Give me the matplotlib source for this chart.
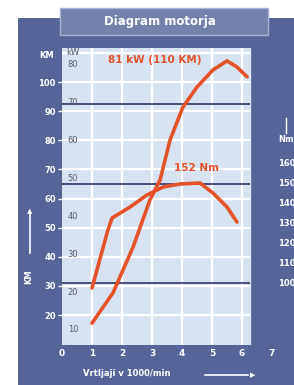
import numpy as np
import matplotlib
matplotlib.use('Agg')
import matplotlib.pyplot as plt
from matplotlib.patches import Rectangle

# podatki (odčitani z diagrama)
rpm_power = np.array([1.0, 1.7, 2.37, 2.93, 3.27, 3.6, 4.03, 4.5, 5.03, 5.5, 5.83, 6.17])
power_kw = np.array([11.8, 19.8, 31.9, 44.3, 49.6, 60.1, 68.8, 74.1, 78.6, 81.0, 79.4, 76.8])
rpm_torque = np.array([1.0, 1.53, 1.67, 2.27, 2.83, 3.37, 3.93, 4.6, 5.03, 5.5, 5.83])
torque_nm = np.array([97, 126, 132, 137.5, 143.5, 147.5, 149, 149.5, 144.5, 137.5, 130])

x_ticks = [0, 1, 2, 3, 4, 5, 6, 7]
km_ticks = [20, 30, 40, 50, 60, 70, 80, 90, 100]
kw_ticks = [10, 20, 30, 40, 50, 60, 70, 80]
nm_ticks = [100, 110, 120, 130, 140, 150, 160]

W, H = 294, 385
blue = '#56649a'
light = '#d8e3f2'
red = '#e4522b'

def px(x, y):
    return x / W, 1 - y / H

fig = plt.figure(figsize=(W / 100, H / 100), dpi=100)
fig.patch.set_facecolor('white')

# modro ozadje in okvir naslova
fig.add_artist(Rectangle(px(18, H), (W - 18) / W, (H - 18) / H, transform=fig.transFigure,
                         facecolor=blue, edgecolor='none', zorder=0))
fig.add_artist(Rectangle(px(60, 35), 208 / W, 27 / H, transform=fig.transFigure,
                         facecolor='#7581ad', edgecolor='#a9b1d2', lw=1, zorder=1))
fig.text(*px(160, 22), 'Diagram motorja', color='white', fontsize=8.5, fontweight='bold',
         ha='center', va='center')

kw_lim = (6.04, 84.4)
km_lim = (9.7, 111.7)
nm_lim = (68.5, 217)
x_right = 6.27

def km_to_kw(v):
    f = (np.asarray(v) - km_lim[0]) / (km_lim[1] - km_lim[0])
    return kw_lim[0] + f * (kw_lim[1] - kw_lim[0])

ax = fig.add_axes([62 / W, 1 - 345 / H, 210 / W, 297 / H])
ax.patch.set_alpha(0)
ax.set_xlim(0, 7)
ax.set_ylim(*kw_lim)
ax.axvspan(0, x_right, color=light, zorder=0)

# mreža
ax.vlines(range(1, 7), kw_lim[0], kw_lim[1], color='white', lw=1.6, zorder=1)
ax.hlines(km_to_kw(np.arange(20, 111, 10)), 0, x_right, color='white', lw=1.6, zorder=1)
ax.hlines([69.5, 48.5, 22.5], 0, x_right, color='#3e406f', lw=1.3, zorder=2)

ax.plot(rpm_power, power_kw, color=red, lw=2.6, solid_capstyle='round', zorder=5)

for v in kw_ticks:
    ax.text(0.37, v, str(v), color='#5a5a6a', fontsize=6, ha='center', va='center', zorder=3)
ax.text(0.37, 83.3, 'kW', color='#5a5a6a', fontsize=6, ha='center', va='center', zorder=3)

ax.set_xticks(x_ticks)
ax.set_xticklabels([str(v) for v in x_ticks], color='white', fontsize=6.5, fontweight='bold')
ax.tick_params(axis='x', length=0, pad=3)
ax.set_yticks([])
for s in ax.spines.values():
    s.set_visible(False)

ax.text(3.1, 0.96, '81 kW (110 KM)', transform=ax.get_xaxis_transform(), color=red,
        fontsize=7.5, fontweight='bold', ha='center', va='center', zorder=6)

# lestvica KM levo
ax_km = ax.twinx()
ax_km.set_ylim(*km_lim)
ax_km.yaxis.tick_left()
ax_km.set_yticks(km_ticks)
ax_km.set_yticklabels([str(v) for v in km_ticks], color='white', fontsize=6, fontweight='bold')
ax_km.tick_params(axis='y', colors='white', length=3, width=1, pad=1.5)
for s in ax_km.spines.values():
    s.set_visible(False)
fig.text(*px(47, 55), 'KM', color='white', fontsize=6, fontweight='bold', ha='center', va='center')

# lestvica Nm desno
ax_nm = ax.twinx()
ax_nm.set_ylim(*nm_lim)
ax_nm.plot(rpm_torque, torque_nm, color=red, lw=2.6, solid_capstyle='round', zorder=5)
ax_nm.set_yticks(nm_ticks)
ax_nm.set_yticklabels([str(v) for v in nm_ticks], color='white', fontsize=6, fontweight='bold')
ax_nm.tick_params(axis='y', length=0, pad=4)
for s in ax_nm.spines.values():
    s.set_visible(False)
ax_nm.text(4.47, 0.596, '152 Nm', transform=ax_nm.get_xaxis_transform(), color=red,
           fontsize=7.5, fontweight='bold', ha='center', va='center', zorder=6)

fig.text(*px(286, 140), 'Nm', color='white', fontsize=6, fontweight='bold', ha='center', va='center')
fig.add_artist(plt.Line2D([286 / W, 286 / W], [1 - 133 / H, 1 - 118 / H], color='white', lw=1))

# oznake osi
fig.text(*px(83, 374), 'Vrtljaji v 1000/min', color='white', fontsize=6, fontweight='bold',
         ha='left', va='center')
fig.add_artist(plt.Line2D([205 / W, 248 / W], [1 - 375 / H] * 2, color='white', lw=1.2))
fig.text(*px(253, 375), '\u25b6', color='white', fontsize=5, ha='center', va='center')

fig.add_artist(plt.Line2D([30 / W, 30 / W], [1 - 253 / H, 1 - 214 / H], color='white', lw=1.2))
fig.text(*px(30, 211), '\u25b2', color='white', fontsize=5, ha='center', va='center')
fig.text(*px(29, 277), 'KM', color='white', fontsize=6, fontweight='bold', rotation=90,
         ha='center', va='center')

fig.savefig('out.png', dpi=100)
